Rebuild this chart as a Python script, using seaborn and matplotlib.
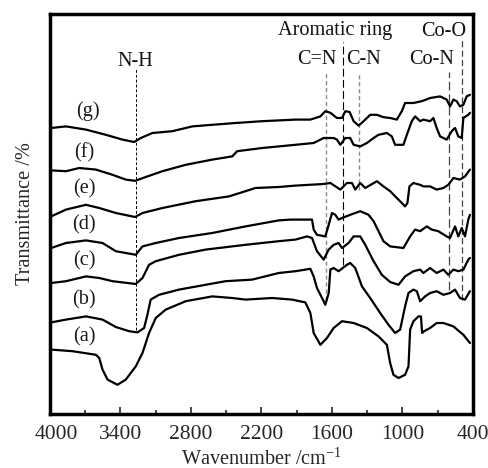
import matplotlib
matplotlib.use("Agg")
import matplotlib.pyplot as plt
import matplotlib.transforms as mtransforms
import seaborn as sns
import numpy as np
import pandas as pd

# ---------------- data (wavenumber cm-1, offset transmittance) ----------------
wn_a = [3990, 3808, 3609, 3581, 3553, 3510, 3426, 3355, 3270, 3213, 3157, 3100, 3015, 2845, 2619, 2449,
        2336, 2110, 1940, 1827, 1784, 1756, 1699, 1643, 1586, 1515, 1416, 1303, 1204, 1133, 1105, 1077,
        1034, 978, 949, 935, 907, 864, 843, 833, 816, 765, 709, 652, 567, 482, 426]
t_a = [16.1, 15.7, 14.8, 14.0, 11.1, 8.6, 7.3, 8.6, 11.9, 15.25, 20.25, 24.0, 26.1, 28.2, 29.4, 29.0,
       28.6, 29.0, 28.6, 27.9, 25.25, 20.25, 17.3, 19.0, 21.5, 23.2, 22.75, 21.5, 19.4, 17.3, 12.75, 9.8,
       9.0, 9.8, 11.9, 21.1, 23.2, 24.4, 24.4, 20.25, 20.7, 21.5, 22.75, 22.75, 21.9, 19.8, 17.75]

wn_b = [3990, 3864, 3694, 3553, 3440, 3326, 3256, 3199, 3171, 3143, 3072, 2902, 2676, 2506, 2279, 2053,
        1911, 1784, 1756, 1728, 1671, 1657, 1628, 1614, 1586, 1544, 1473, 1445, 1402, 1345, 1275, 1190,
        1119, 1063, 1020, 978, 949, 907, 878, 850, 808, 765, 709, 652, 595, 553, 511, 468, 426]
t_b = [22.9, 23.6, 24.4, 23.6, 21.75, 20.7, 20.4, 21.5, 24.8, 28.6, 29.8, 31.1, 32.3, 33.2, 33.6, 35.25,
       35.7, 36.3, 34.4, 31.5, 28.2, 27.3, 30.25, 36.1, 36.5, 35.7, 37.3, 37.75, 36.5, 31.9, 29.0, 25.25,
       22.3, 20.25, 21.1, 26.9, 30.25, 31.1, 30.7, 28.2, 29.4, 30.25, 30.7, 29.8, 30.25, 31.1, 29.0, 28.6, 30.7]

wn_c = [3990, 3864, 3694, 3581, 3468, 3270, 3213, 3157, 3100, 2902, 2676, 2336, 2053, 1911, 1812, 1770,
        1728, 1671, 1628, 1586, 1544, 1515, 1459, 1416, 1360, 1317, 1246, 1176, 1105, 1034, 978, 907,
        850, 822, 765, 709, 652, 610, 567, 525, 482, 440, 426]
t_c = [32.75, 33.2, 34.4, 34.0, 33.2, 32.5, 34.0, 37.3, 38.2, 39.8, 41.1, 42.3, 43.2, 43.6, 44.4, 44.0,
       40.7, 38.6, 41.1, 42.3, 42.75, 41.5, 42.75, 44.4, 44.4, 42.3, 38.2, 34.8, 33.0, 32.3, 34.4, 35.7,
       36.1, 35.25, 36.5, 35.25, 36.1, 34.8, 36.1, 35.7, 36.1, 38.6, 39.0]

wn_d = [3990, 3864, 3694, 3553, 3440, 3326, 3270, 3213, 3100, 2902, 2619, 2336, 2053, 1954, 1770, 1756,
        1728, 1657, 1628, 1600, 1572, 1544, 1515, 1445, 1360, 1289, 1246, 1204, 1162, 1105, 992, 935,
        893, 850, 794, 751, 695, 624, 595, 553, 525, 496, 468, 440, 426]
t_d = [41.5, 42.75, 43.4, 42.75, 40.7, 40.1, 39.8, 41.9, 42.75, 44.0, 45.25, 46.9, 48.4, 48.6, 48.6, 46.1,
       44.8, 44.4, 47.3, 50.25, 49.8, 48.6, 49.0, 49.8, 50.7, 49.8, 48.2, 45.7, 43.2, 41.9, 41.5, 44.4,
       46.1, 45.7, 46.9, 46.1, 45.7, 44.4, 44.0, 46.9, 44.4, 46.5, 44.4, 48.6, 49.8]

wn_e = [3990, 3864, 3694, 3581, 3440, 3276, 3213, 3043, 2760, 2477, 2251, 2053, 1911, 1671, 1614, 1529,
        1473, 1430, 1402, 1360, 1317, 1218, 1162, 1105, 1048, 1006, 978, 958, 941, 907, 850, 822, 765,
        709, 652, 610, 567, 511, 468, 426]
t_e = [49.4, 51.1, 52.3, 51.5, 50.25, 49.25, 50.25, 51.5, 53.2, 54.4, 56.5, 56.75, 57.1, 57.5, 57.75, 56.1,
       57.75, 57.75, 56.1, 57.75, 56.5, 58.2, 56.9, 55.7, 54.0, 52.75, 51.9, 52.75, 56.9, 57.75, 57.3, 56.9,
       56.9, 56.1, 56.5, 57.3, 59.0, 58.6, 59.4, 61.1]

wn_f = [3990, 3864, 3751, 3609, 3468, 3355, 3276, 3185, 3043, 2845, 2619, 2449, 2407, 2194, 1911, 1756,
        1671, 1586, 1558, 1529, 1487, 1445, 1416, 1360, 1303, 1246, 1204, 1133, 1091, 1063, 992, 963,
        921, 893, 850, 822, 765, 737, 709, 680, 624, 581, 553, 525, 496, 482, 440, 426]
t_f = [60.9, 60.7, 61.5, 61.1, 59.8, 58.6, 58.3, 59.25, 60.7, 62.3, 63.6, 64.4, 65.7, 66.5, 67.3, 67.75,
       69.0, 69.0, 68.6, 67.3, 69.0, 69.0, 67.3, 66.9, 67.75, 69.0, 69.8, 70.25, 69.4, 67.3, 67.3, 69.8,
       73.2, 74.4, 73.2, 73.6, 73.2, 74.0, 71.5, 69.4, 68.6, 70.7, 71.5, 69.4, 69.0, 74.0, 74.8, 75.3]

wn_g = [3990, 3864, 3694, 3525, 3383, 3284, 3227, 3128, 2959, 2789, 2619, 2421, 2194, 1911, 1784, 1699,
        1657, 1614, 1558, 1515, 1487, 1450, 1416, 1374, 1331, 1275, 1218, 1162, 1105, 1048, 1006, 978,
        907, 836, 765, 680, 624, 595, 567, 539, 511, 482, 454, 426]
t_g = [71.5, 71.9, 71.1, 69.8, 68.6, 68.0, 69.0, 70.25, 70.7, 71.9, 72.3, 72.75, 73.2, 73.6, 73.6, 74.4,
       75.7, 75.3, 74.0, 74.0, 75.7, 75.5, 73.2, 72.1, 73.2, 74.8, 74.8, 74.2, 74.0, 73.6, 75.7, 77.75,
       77.75, 78.2, 79.0, 79.4, 78.6, 76.9, 78.6, 78.2, 76.9, 77.3, 79.4, 79.8]

samples = ["(a)", "(b)", "(c)", "(d)", "(e)", "(f)", "(g)"]
sample_label_wn = [3708, 3708, 3708, 3708, 3708, 3708, 3675]
sample_label_t = [19.4, 28.6, 38.2, 47.2, 56.25, 65.4, 75.7]

band_names = ["N-H", "C=N", "Aromatic ring", "C-N", "Co-N", "Co-O"]
band_wn = [3270, 1651, 1510, 1368, 604, 491]
band_line_top = [86.6, 85.6, 93.1, 85.6, 85.6, 93.6]
band_line_bottom = [21.1, 28.6, 37.3, 56.1, 31.1, 28.6]
band_label_wn = [3276, 1725, 1572, 1334, 751, 652]
band_label_t = [88.1, 88.6, 95.8, 88.6, 88.6, 95.6]

x_ticks = [4000, 3400, 2800, 2200, 1600, 1000, 400]

# ---------------- build long-form table ----------------
frames = []
for name, w, t in zip(samples, [wn_a, wn_b, wn_c, wn_d, wn_e, wn_f, wn_g],
                      [t_a, t_b, t_c, t_d, t_e, t_f, t_g]):
    frames.append(pd.DataFrame({"wn": w, "T": t, "sample": name}))
df = pd.concat(frames, ignore_index=True)

# ---------------- style ----------------
sns.set_theme(style="white")
plt.rcParams["font.family"] = ["Liberation Serif", "DejaVu Serif"]
plt.rcParams["mathtext.fontset"] = "custom"
plt.rcParams["mathtext.rm"] = "Liberation Serif"
plt.rcParams["mathtext.it"] = "Liberation Serif:italic"

FS = 14.6

fig = plt.figure(figsize=(4.89, 4.68), dpi=100)
ax = fig.add_axes([50 / 489, 54 / 468, 423 / 489, 400 / 468])

sns.lineplot(data=df, x="wn", y="T", hue="sample", units="sample", estimator=None, sort=False,
             palette=["black"] * len(samples), linewidth=1.6, legend=False, ax=ax)

# band marker lines
styles = [
    dict(color="black", linestyle=(0, (3, 2)), linewidth=0.7),
    dict(color="#8a8a8a", linestyle=(0, (3, 2)), linewidth=1.0),
    dict(color="black", linestyle=(0, (7, 3)), linewidth=0.8),
    dict(color="#8a8a8a", linestyle=(0, (3, 2)), linewidth=1.0),
    dict(color="#444444", linestyle=(0, (7, 3)), linewidth=0.9),
    dict(color="#444444", linestyle=(0, (5, 2.5)), linewidth=0.9),
]
for w, t0, t1, st in zip(band_wn, band_line_bottom, band_line_top, styles):
    ax.plot([w, w], [t0, t1], **st, zorder=1)

for name, w, t in zip(band_names, band_label_wn, band_label_t):
    ax.text(w, t, name, ha="center", va="center", fontsize=FS, color="#111111")

for name, w, t in zip(samples, sample_label_wn, sample_label_t):
    ax.text(w, t, name, ha="center", va="center", fontsize=FS, color="#1a1a1a")

ax.set_xlim(4000, 400)
ax.set_ylim(0, 100)
ax.set_xticks(x_ticks)
ax.set_xticklabels([str(v) for v in x_ticks])
ax.set_xticks(np.arange(4000, 399, -300), minor=True)
ax.set_yticks([])
ax.tick_params(axis="x", which="major", direction="in", length=5, width=1.2,
               labelsize=15.5, pad=8, bottom=True)
ax.tick_params(axis="x", which="minor", direction="in", length=3, width=1.2, bottom=True)

# first tick label sits slightly right of the axis edge in the reference
first = ax.get_xticklabels()[0]
first.set_transform(first.get_transform() + mtransforms.ScaledTranslation(6 / 100, 0, fig.dpi_scale_trans))

ax.set_xlabel(r"Wavenumber /cm$^{\mathregular{-1}}$", fontsize=FS, labelpad=3)
ax.set_ylabel("Transmittance /%", fontsize=FS, labelpad=11)

for sp in ax.spines.values():
    sp.set_visible(True)
    sp.set_linewidth(2.5)
    sp.set_color("black")

fig.savefig("out.png", dpi=100)
